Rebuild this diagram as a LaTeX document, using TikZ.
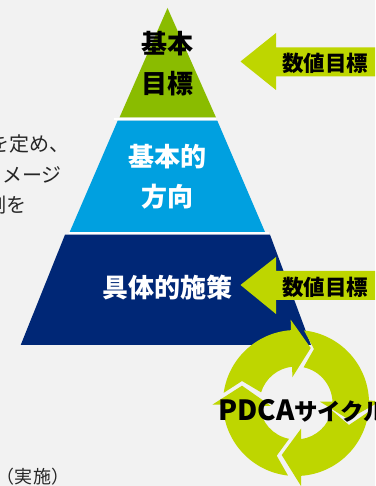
\documentclass[tikz,border=0pt]{standalone}
\usepackage{fontspec}
\setmainfont{Noto Sans CJK JP}
\definecolor{pagebg}{HTML}{F2F2F2}
\definecolor{topgreen}{HTML}{8ABC00}
\definecolor{midblue}{HTML}{00A0E0}
\definecolor{navy}{HTML}{002776}
\definecolor{lime}{HTML}{BED600}
\definecolor{bodytext}{HTML}{262626}
\tikzset{
  tier/.style={inner sep=0pt,font=\fontsize{26}{26}\selectfont\bfseries},
  whitetier/.style={tier,text=white},
  blacktier/.style={tier,text=black},
  goal/.style={inner sep=0pt,font=\fontsize{21.5}{22}\selectfont\bfseries,text=black},
  note/.style={inner sep=0pt,anchor=east,font=\fontsize{20}{20}\selectfont,text=bodytext},
  tierline/.style={white,line width=2pt},
  goalarrow/.style={fill=lime,draw=none},
  cyclearrow/.style={fill=lime,draw=none}
}
\begin{document}
\begin{tikzpicture}[x=1pt,y=1pt]
\useasboundingbox (0,0) rectangle (375,486);
\clip (0,0) rectangle (375,486);
\fill[pagebg] (0,0) rectangle (375,486);
% pyramid
\fill[topgreen] (167.5,478) -- (216,368.5) -- (119.5,368.5) -- cycle;
\fill[midblue] (117.7,365.3) -- (217.3,365.3) -- (265,254) -- (69.7,254) -- cycle;
\fill[navy] (65,251.3) -- (270,251.3) -- (311,141) -- (20.7,141) -- cycle;
\draw[tierline] (114,367.3) -- (216,367.3);
\draw[tierline] (68.5,253.2) -- (269,253.2);
% tier labels
\node[blacktier] (kihon) at (167.5,442) {基本};
\node[blacktier] (mokuhyo) at (167.5,402) {目標};
\node[whitetier] (kihonteki) at (167,329) {基本的};
\node[whitetier] (hoko) at (167,289) {方向};
\node[whitetier] (gutai) at (167.5,198) {具体的施策};
% goal arrows
\fill[goalarrow] (240.5,424.5) -- (276,453) -- (276,438.5) -- (375,438.5) -- (375,409.5) -- (276,409.5) -- (276,396) -- cycle;
\fill[goalarrow] (240.5,201) -- (276,229) -- (276,215) -- (375,215) -- (375,186) -- (276,186) -- (276,172) -- cycle;
\node[goal] (goalA) at (325,423) {数値目標};
\node[goal] (goalB) at (325,199) {数値目標};
% cycle
\begin{scope}[shift={(296pt,83pt)}]
\fill[cyclearrow] (172:73) arc[start angle=172,end angle=94,radius=73]
  -- (-5.3,83.3) -- (14.7,55) -- (-3.7,25.7) -- (96:36.5)
  arc[start angle=96,end angle=163,radius=36.5] -- (-54,22) -- cycle;
\fill[cyclearrow] (83.7:73) arc[start angle=83.7,end angle=2,radius=73]
  -- (84,1.5) -- (52.3,-16.3) -- (24,1.3) -- (2:36.5)
  arc[start angle=2,end angle=78,radius=36.5] -- (18,54) -- cycle;
\fill[cyclearrow] (-7:73) arc[start angle=-7,end angle=-86,radius=73]
  -- (5,-83) -- (-14.3,-52) -- (5,-25.7) -- (-82:36.5)
  arc[start angle=-82,end angle=-11.5,radius=36.5] -- (53,-22) -- cycle;
\fill[cyclearrow] (-96.3:73) arc[start angle=-96.3,end angle=-178.7,radius=73]
  -- (-83.7,-1.7) -- (-54,17.3) -- (-25,-3) -- (-175.3:36.5)
  arc[start angle=-175.3,end angle=-101,radius=36.5] -- (-19.3,-52.7) -- cycle;
\end{scope}
\node[inner sep=0pt,anchor=west,font=\fontsize{23.5}{26}\selectfont\bfseries,text=black] (pdca) at (218,75) {{\fontsize{27.8}{26}\selectfont PDCA}サイクル};
% left notes
\node[note] (noteA) at (70,342) {を定め、};
\node[note] (noteB) at (62,311) {イメージ};
\node[note] (noteC) at (27,281) {例を};
\node[inner sep=0pt,font=\fontsize{18}{18}\selectfont,text=bodytext] (jisshi) at (33,9) {（実施）};
\end{tikzpicture}
\end{document}
